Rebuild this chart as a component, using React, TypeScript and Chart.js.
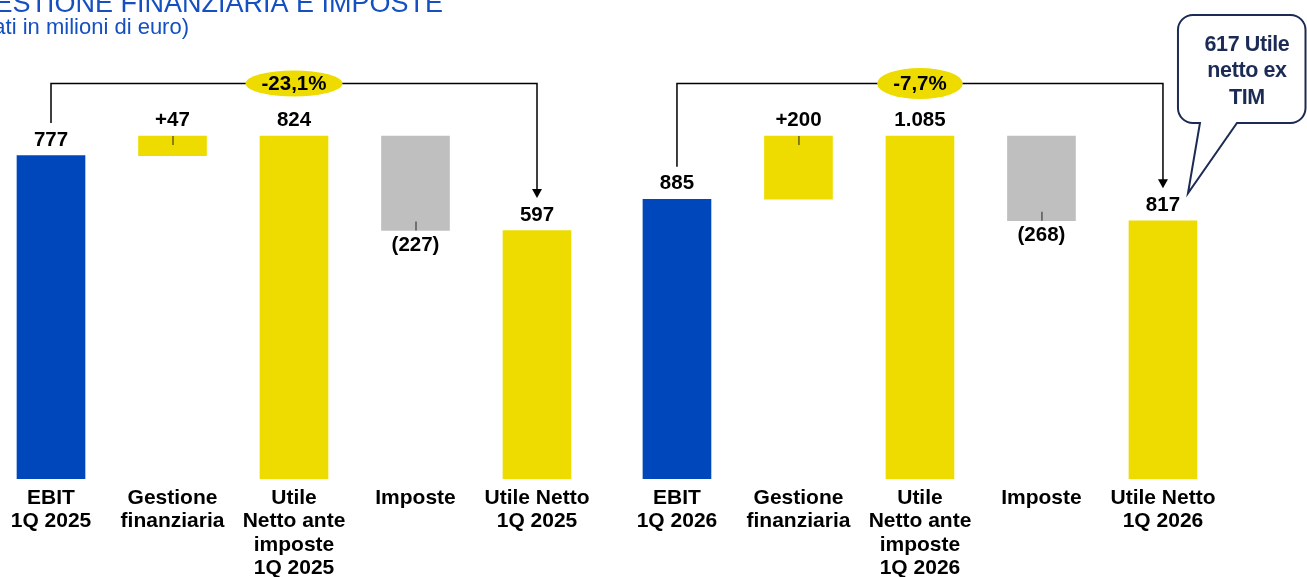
import React, { useEffect, useRef } from 'react';
import { Chart, registerables } from 'chart.js';

Chart.register(...registerables);

// ---------- data ----------
const titleText = 'GESTIONE FINANZIARIA E IMPOSTE';
const subtitleText = '(dati in milioni di euro)';

const labels2025: string[][] = [
  ['EBIT', '1Q 2025'],
  ['Gestione', 'finanziaria'],
  ['Utile', 'Netto ante', 'imposte', '1Q 2025'],
  ['Imposte'],
  ['Utile Netto', '1Q 2025'],
];
const labels2026: string[][] = [
  ['EBIT', '1Q 2026'],
  ['Gestione', 'finanziaria'],
  ['Utile', 'Netto ante', 'imposte', '1Q 2026'],
  ['Imposte'],
  ['Utile Netto', '1Q 2026'],
];
const stepKinds = ['total', 'delta', 'total', 'delta', 'total'];
const values2025 = [777, 47, 824, -227, 597];
const values2026 = [885, 200, 1085, -268, 817];
const changeLabels = ['-23,1%', '-7,7%'];
const calloutLines = ['617 Utile', 'netto ex', 'TIM'];

// ---------- styles ----------
const W = 1307;
const H = 577;
const FONT = '"Liberation Sans", Arial, Helvetica, sans-serif';
const BLUE = '#0047BB';
const YELLOW = '#EEDC00';
const GREY = '#BFBFBF';
const NAVY = '#1C2B55';
const TITLE_BLUE = '#1450C0';
const GROUP_GAP = 0.152;
const HEADROOM = 1.28;

function toRanges(values: number[]): [number, number][] {
  let running = 0;
  return values.map((v, i) => {
    if (stepKinds[i] === 'total') {
      running = v;
      return [0, v];
    }
    const lo = running;
    const hi = running + v;
    running = hi;
    return [Math.min(lo, hi), Math.max(lo, hi)];
  });
}

function colorsFor(values: number[]): string[] {
  return values.map((v, i) => (i === 0 ? BLUE : v < 0 ? GREY : YELLOW));
}

function fmt(n: number): string {
  return String(Math.abs(n)).replace(/\B(?=(\d{3})+(?!\d))/g, '.');
}

function valueText(v: number, i: number): string {
  if (stepKinds[i] === 'total') return fmt(v);
  return v > 0 ? '+' + fmt(v) : '(' + fmt(v) + ')';
}

const groups = [values2025, values2026];
const groupLabels = [labels2025, labels2026];
const xPositions: number[] = [];
const allLabels: string[][] = [];
groups.forEach((vals, g) => {
  vals.forEach((_, i) => {
    xPositions.push(g * (vals.length + GROUP_GAP) + i);
    allLabels.push(groupLabels[g][i]);
  });
});

const overlayPlugin = {
  id: 'waterfallOverlay',
  afterDatasetsDraw(chart: any) {
    const ctx: CanvasRenderingContext2D = chart.ctx;
    ctx.save();

    // title / subtitle (cropped at the left as in the source)
    ctx.fillStyle = TITLE_BLUE;
    ctx.textAlign = 'right';
    ctx.textBaseline = 'alphabetic';
    ctx.font = `27px ${FONT}`;
    ctx.fillText(titleText, 443, 12);
    ctx.font = `22px ${FONT}`;
    ctx.fillText(subtitleText, 189, 34);

    const labelYs: number[][] = [];
    groups.forEach((vals, g) => {
      const meta = chart.getDatasetMeta(g);
      const ys: number[] = [];
      vals.forEach((v, i) => {
        const el = meta.data[i];
        const top = Math.min(el.y, el.base);
        const bottom = Math.max(el.y, el.base);
        const negative = v < 0;
        const ly = negative ? bottom + 15 : top - 15.5;
        ys.push(ly);
        ctx.fillStyle = '#000';
        ctx.textAlign = 'center';
        ctx.textBaseline = 'middle';
        ctx.font = `bold 20.5px ${FONT}`;
        ctx.fillText(valueText(v, i), el.x, ly);
        if (stepKinds[i] === 'delta') {
          ctx.strokeStyle = '#222';
          ctx.lineWidth = 1;
          ctx.beginPath();
          if (negative) {
            ctx.moveTo(el.x + 0.5, bottom - 9);
            ctx.lineTo(el.x + 0.5, bottom);
          } else {
            ctx.moveTo(el.x + 0.5, top);
            ctx.lineTo(el.x + 0.5, top + 9);
          }
          ctx.stroke();
        }
      });
      labelYs.push(ys);

      // bracket with arrow
      const first = meta.data[0];
      const last = meta.data[vals.length - 1];
      const mid = meta.data[2];
      const yTop = 83.5;
      const startY = ys[0] - 17;
      const tipY = ys[vals.length - 1] - 17;
      ctx.strokeStyle = '#000';
      ctx.lineWidth = 1.5;
      ctx.beginPath();
      ctx.moveTo(first.x, startY);
      ctx.lineTo(first.x, yTop);
      ctx.lineTo(last.x, yTop);
      ctx.lineTo(last.x, tipY - 8);
      ctx.stroke();
      ctx.fillStyle = '#000';
      ctx.beginPath();
      ctx.moveTo(last.x - 5, tipY - 9);
      ctx.lineTo(last.x + 5, tipY - 9);
      ctx.lineTo(last.x, tipY);
      ctx.closePath();
      ctx.fill();

      // change ellipse
      ctx.font = `bold 20.5px ${FONT}`;
      const tw = ctx.measureText(changeLabels[g]).width;
      ctx.fillStyle = YELLOW;
      ctx.beginPath();
      ctx.ellipse(mid.x, yTop, tw / 2 + 16, g === 0 ? 13 : 15.5, 0, 0, Math.PI * 2);
      ctx.fill();
      ctx.fillStyle = '#000';
      ctx.textAlign = 'center';
      ctx.textBaseline = 'middle';
      ctx.fillText(changeLabels[g], mid.x, yTop + 1);
    });

    // callout bubble near the last bar
    const lastMeta = chart.getDatasetMeta(1);
    const lastEl = lastMeta.data[lastMeta.data.length - 1];
    const lastLy = labelYs[1][labelYs[1].length - 1];
    const left = lastEl.x + 15;
    const right = W - 1.5;
    const top = 15;
    const bottom = 123;
    const r = 15;
    const tipX = lastEl.x + 25;
    const tipY = lastLy - 12;
    ctx.beginPath();
    ctx.moveTo(left + r, top);
    ctx.lineTo(right - r, top);
    ctx.arcTo(right, top, right, top + r, r);
    ctx.lineTo(right, bottom - r);
    ctx.arcTo(right, bottom, right - r, bottom, r);
    ctx.lineTo(lastEl.x + 74, bottom);
    ctx.lineTo(tipX, tipY);
    ctx.lineTo(lastEl.x + 37, bottom);
    ctx.lineTo(left + r, bottom);
    ctx.arcTo(left, bottom, left, bottom - r, r);
    ctx.lineTo(left, top + r);
    ctx.arcTo(left, top, left + r, top, r);
    ctx.closePath();
    ctx.fillStyle = '#fff';
    ctx.fill();
    ctx.strokeStyle = NAVY;
    ctx.lineWidth = 2;
    ctx.stroke();
    ctx.fillStyle = NAVY;
    ctx.font = `bold 21.5px ${FONT}`;
    ctx.textAlign = 'center';
    ctx.textBaseline = 'middle';
    try {
      (ctx as any).letterSpacing = '-0.4px';
    } catch (e) {}
    calloutLines.forEach((line, i) => {
      ctx.fillText(line, lastEl.x + 84, 45 + i * 26.5);
    });
    try {
      (ctx as any).letterSpacing = '0px';
    } catch (e) {}

    ctx.restore();
  },
};

export default function App() {
  const canvasRef = useRef<HTMLCanvasElement | null>(null);

  useEffect(() => {
    document.body.style.margin = '0';
    document.body.style.overflow = 'hidden';
    const canvas = canvasRef.current;
    if (!canvas) return;

    const ranges2025 = toRanges(values2025);
    const ranges2026 = toRanges(values2026);
    const maxLeft = Math.max(...values2025) * HEADROOM;
    const maxRight = Math.max(...values2026) * HEADROOM;
    const unitPx = 121.5;
    const firstCenter = 51;
    const xMin = -firstCenter / unitPx;
    const xMax = xMin + W / unitPx;

    const chart = new Chart(canvas, {
      type: 'bar',
      data: {
        datasets: [
          {
            data: ranges2025.map((r, i) => ({ x: xPositions[i], y: r })) as any,
            yAxisID: 'y',
            backgroundColor: colorsFor(values2025),
            barThickness: 68,
            grouped: false,
            borderWidth: 0,
          } as any,
          {
            data: ranges2026.map((r, i) => ({ x: xPositions[i + values2025.length], y: r })) as any,
            yAxisID: 'y2',
            backgroundColor: colorsFor(values2026),
            barThickness: 68,
            grouped: false,
            borderWidth: 0,
          } as any,
        ],
      },
      options: {
        animation: false,
        responsive: false,
        devicePixelRatio: 1,
        layout: { padding: { top: 40, left: 0, right: 0, bottom: 0 } },
        plugins: {
          legend: { display: false },
          tooltip: { enabled: false },
          title: { display: false },
        },
        scales: {
          x: {
            type: 'linear',
            min: xMin,
            max: xMax,
            offset: false,
            grid: { display: false, drawTicks: false },
            border: { display: false },
            afterBuildTicks: (axis: any) => {
              axis.ticks = xPositions.map((value) => ({ value }));
            },
            afterFit: (axis: any) => {
              axis.height = H - 479;
            },
            ticks: {
              autoSkip: false,
              maxRotation: 0,
              minRotation: 0,
              padding: 7,
              color: '#000',
              font: { family: FONT, size: 21, weight: 'bold', lineHeight: 1.12 },
              callback: (_value: any, index: number) => allLabels[index],
            },
          } as any,
          y: {
            display: false,
            min: 0,
            max: maxLeft,
          },
          y2: {
            display: false,
            min: 0,
            max: maxRight,
          },
        },
      },
      plugins: [overlayPlugin],
    });

    return () => chart.destroy();
  }, []);

  return (
    <div style={{ position: 'relative', width: W, height: H, background: '#fff' }}>
      <canvas ref={canvasRef} width={W} height={H} style={{ display: 'block', width: W, height: H }} />
    </div>
  );
}
